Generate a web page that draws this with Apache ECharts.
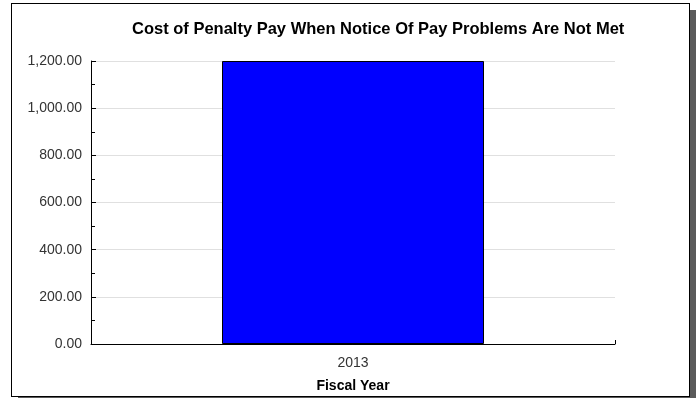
<!DOCTYPE html>
<html><head><meta charset="utf-8">
<script src="https://cdn.jsdelivr.net/npm/echarts@6/dist/echarts.min.js"></script>
<style>
html,body{margin:0;padding:0;background:#fff;overflow:hidden}
#shadow{position:absolute;left:18px;top:10px;width:678px;height:388px;background:#5a5a5a}
#frame{position:absolute;left:11px;top:3px;width:677px;height:392px;border:1px solid #000;background:#fff}
#c{position:absolute;left:0;top:0;width:696px;height:398px}
</style>
</head><body><div id="shadow"></div><div id="frame"></div><div id="c"></div>
<script>
const categories = ['2013'];
const values = [1200];
const titleText = 'Cost of Penalty Pay When Notice Of Pay Problems Are Not Met';
const xAxisName = 'Fiscal Year';

const chart = echarts.init(document.getElementById('c'), null, {renderer: 'canvas'});
chart.setOption({
  animation: false,
  backgroundColor: 'transparent',
  title: {
    text: titleText, left: 127, top: 16,
    textStyle: {fontFamily: 'Liberation Sans, Arial', fontSize: 16.5, fontWeight: 'bold', color: '#000'}
  },
  grid: {left: 91, right: 81, top: 61, bottom: 54, outerBoundsMode: 'none', containLabel: false},
  xAxis: {
    type: 'category', data: categories, boundaryGap: true,
    name: xAxisName, nameLocation: 'middle', nameGap: 35,
    nameTextStyle: {fontFamily: 'Liberation Sans, Arial', fontSize: 14, fontWeight: 'bold', color: '#000'},
    axisLine: {lineStyle: {color: '#000', width: 1}},
    axisTick: {show: true, inside: true, length: 4, lineStyle: {color: '#000'}},
    axisLabel: {fontFamily: 'Liberation Sans, Arial', fontSize: 14, color: '#333', margin: 12},
    splitLine: {show: false}
  },
  yAxis: {
    type: 'value', min: 0, max: 1200, interval: 200,
    axisLine: {show: true, lineStyle: {color: '#000', width: 1}},
    axisTick: {show: true, inside: true, length: 5, lineStyle: {color: '#000'}},
    minorTick: {show: true, splitNumber: 2, length: 4, lineStyle: {color: '#000'}},
    axisLabel: {
      fontFamily: 'Liberation Sans, Arial', fontSize: 14, color: '#333', margin: 9,
      formatter: v => v.toLocaleString('en-US', {minimumFractionDigits: 2, maximumFractionDigits: 2})
    },
    splitLine: {show: true, lineStyle: {color: '#e0e0e0', width: 1}}
  },
  series: [{
    type: 'bar', data: values, barWidth: '50%',
    itemStyle: {color: '#0000ff', borderColor: '#000', borderWidth: 1}
  }]
});
</script></body></html>
